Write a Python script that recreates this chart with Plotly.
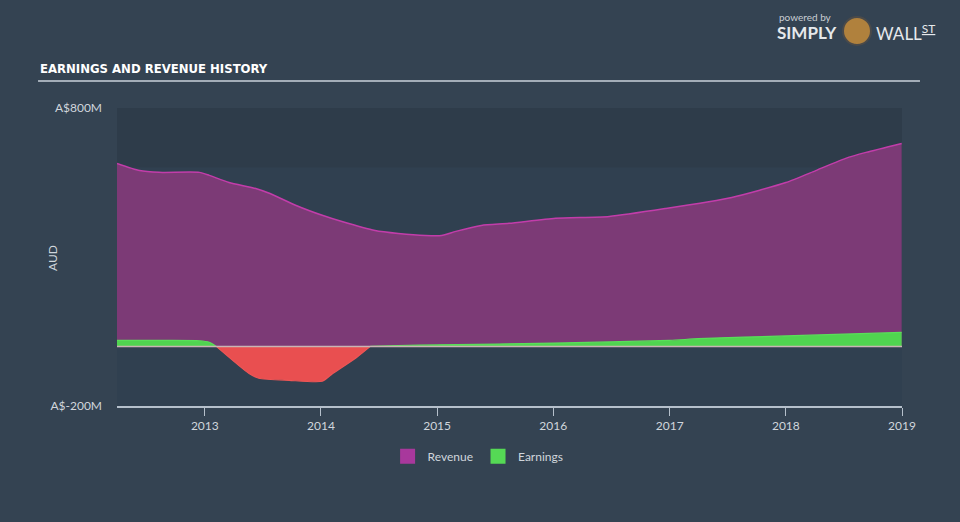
import plotly.graph_objects as go

# ---- data ----
rev_dates = ["2012-03-31", "2012-06-10", "2012-08-10", "2012-12-15", "2013-01-15",
             "2013-03-18", "2013-06-10", "2013-07-25", "2013-10-15", "2014-01-05",
             "2014-03-08", "2014-06-20", "2014-09-01", "2014-11-25", "2015-01-15",
             "2015-03-01", "2015-05-20", "2015-08-15", "2016-01-08", "2016-06-25",
             "2016-12-20", "2017-07-15", "2018-01-01", "2018-04-05", "2018-07-08",
             "2018-09-10", "2018-12-31"]
revenue = [614, 590, 584, 584, 574,
           550, 530, 513, 473, 440,
           419, 389, 379, 372, 372,
           386, 406, 413, 430, 436,
           463, 500, 550, 590, 631,
           651, 681]

earn_dates = ["2012-03-31", "2012-09-01", "2012-12-15", "2013-01-15", "2013-02-06",
              "2013-05-20", "2013-06-20", "2013-09-23", "2014-01-05", "2014-02-07",
              "2014-04-23", "2014-06-05", "2014-09-01", "2015-01-01", "2016-01-01",
              "2017-01-01", "2017-04-01", "2018-01-01", "2018-12-31"]
earnings = [20, 20, 19, 14, 0,
            -91, -107, -114, -117, -91,
            -37, 0, 3, 5, 11,
            20, 26, 35, 47]

y_tickvals = [-200, 800]
y_ticktext = ["A$-200M", "A$800M"]
x_tickvals = ["2013-01-01", "2014-01-01", "2015-01-01", "2016-01-01",
              "2017-01-01", "2018-01-01", "2019-01-01"]
x_ticktext = ["2013", "2014", "2015", "2016", "2017", "2018", "2019"]

PAPER = "#344352"
PLOT = "#304050"
TXT = "#d0d6dc"
FONT = "Lato, Open Sans, sans-serif"
REV_SWATCH = "#a8389c"
EARN_SWATCH = "#55d955"

fig = go.Figure()

fig.add_trace(go.Scatter(
    x=rev_dates, y=revenue, name="Revenue", mode="lines",
    line=dict(color="#c23daa", width=1.5, shape="spline", smoothing=0.6),
    fill="tozeroy", fillcolor="#7c3a76", showlegend=False,
))

# split earnings into contiguous same-sign segments
segments = []
cur = None
for d, v in zip(earn_dates, earnings):
    sign = 1 if v > 0 else (-1 if v < 0 else 0)
    if cur is None:
        cur = {"sign": sign, "x": [d], "y": [v]}
        continue
    if sign == 0:
        cur["x"].append(d); cur["y"].append(v)
        segments.append(cur)
        cur = {"sign": 0, "x": [d], "y": [v]}
        continue
    if cur["sign"] == 0:
        cur["sign"] = sign
    cur["x"].append(d); cur["y"].append(v)
segments.append(cur)

for seg in segments:
    if len(seg["x"]) < 2:
        continue
    neg = seg["sign"] < 0
    fig.add_trace(go.Scatter(
        x=seg["x"], y=seg["y"], mode="lines", name="Earnings",
        line=dict(color="#ee5656" if neg else "#5ade5a", width=1.2,
                  shape="spline", smoothing=0.6),
        fill="tozeroy", fillcolor="#e94f50" if neg else "#50d450",
        showlegend=False,
    ))

# legend-only entries with square swatches
for nm, col in [("Revenue", REV_SWATCH), ("Earnings", EARN_SWATCH)]:
    fig.add_trace(go.Scatter(
        x=[None], y=[None], mode="markers", name=nm,
        marker=dict(symbol="square", size=15, color=col),
    ))

fig.update_layout(
    width=960, height=522,
    paper_bgcolor=PAPER, plot_bgcolor=PLOT,
    margin=dict(l=117, r=58, t=108, b=116),
    font=dict(family=FONT, color=TXT, size=12),
    showlegend=True,
    legend=dict(orientation="h", x=0.46, xanchor="center", y=-0.12, yanchor="top",
                font=dict(size=12, color=TXT), bgcolor="rgba(0,0,0,0)",
                itemwidth=30, traceorder="normal"),
    xaxis=dict(
        type="date", range=["2012-03-31", "2019-01-01"],
        tickvals=x_tickvals, ticktext=x_ticktext,
        showgrid=False, zeroline=False,
        showline=True, linecolor="#b5c0cb", linewidth=1.5,
        ticks="outside", ticklen=8, tickcolor="#b5c0cb", tickwidth=1,
        tickfont=dict(size=12, color=TXT),
    ),
    yaxis=dict(
        range=[-200, 800], tickvals=y_tickvals, ticktext=y_ticktext,
        showgrid=False, zeroline=False, showline=False, ticks="",
        ticklabelstandoff=14,
        tickfont=dict(size=12, color=TXT),
    ),
    shapes=[
        dict(type="rect", xref="paper", yref="y", x0=0, x1=1, y0=600, y1=800,
             fillcolor="#2e3c4a", line=dict(width=0), layer="below"),
        dict(type="line", xref="paper", yref="y", x0=0, x1=1, y0=0, y1=0,
             line=dict(color="#c9b4b4", width=1.5), layer="above"),
        dict(type="line", xref="paper", yref="paper", x0=-0.1006, x1=1.0229,
             y0=1.0906, y1=1.0906, line=dict(color="#a3adb8", width=2)),
        dict(type="circle", xref="paper", yref="paper",
             x0=(843 - 117) / 785, x1=(871 - 117) / 785,
             y0=(406 - 45) / 298, y1=(406 - 17) / 298,
             fillcolor="#b0813d", line=dict(color="#4a4a4a", width=2)),
    ],
    annotations=[
        dict(text="<b>EARNINGS AND REVENUE HISTORY</b>", xref="paper", yref="paper",
             x=(38 - 117) / 785, y=(406 - 68) / 298, xanchor="left", yanchor="middle",
             showarrow=False,
             font=dict(family="Liberation Sans Narrow, DejaVu Sans Condensed, sans-serif",
                       size=13, color="#ffffff")),
        dict(text="AUD", xref="paper", yref="paper", x=(52 - 117) / 785,
             y=(406 - 258) / 298, textangle=-90, showarrow=False,
             xanchor="center", yanchor="middle", font=dict(size=12, color=TXT)),
        dict(text="powered by", xref="paper", yref="paper", x=(777 - 117) / 785,
             y=(406 - 17) / 298, xanchor="left", yanchor="middle", showarrow=False,
             font=dict(size=10, color="#c8ced4")),
        dict(text="<b>SIMPLY</b>", xref="paper", yref="paper", x=(775 - 117) / 785,
             y=(406 - 33) / 298, xanchor="left", yanchor="middle", showarrow=False,
             font=dict(size=17, color="#e6e9ec")),
        dict(text="WALL<sup><u>ST</u></sup>", xref="paper", yref="paper",
             x=(874 - 117) / 785, y=(406 - 33) / 298, xanchor="left",
             yanchor="middle", showarrow=False,
             font=dict(size=17, color="#e6e9ec")),
    ],
)

fig.write_html("out.html")
